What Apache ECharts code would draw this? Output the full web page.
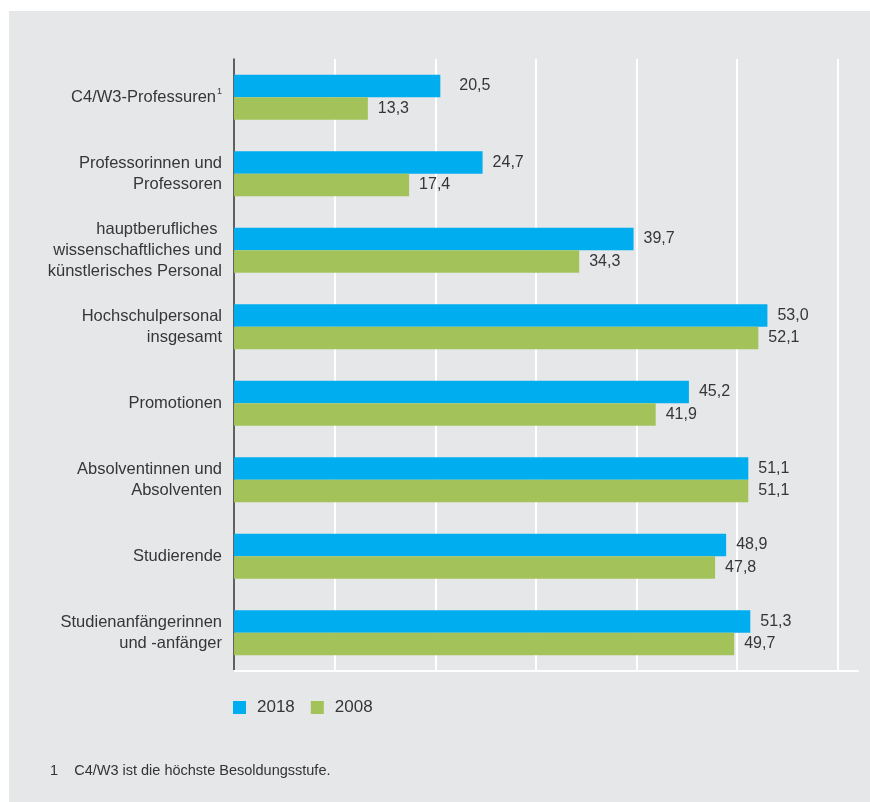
<!DOCTYPE html>
<html>
<head>
<meta charset="utf-8">
<script src="https://cdn.jsdelivr.net/npm/echarts@6/dist/echarts.min.js"></script>
<style>
html,body{margin:0;padding:0;background:#fff;}
#chart{width:870px;height:802px;}
</style>
</head>
<body>
<div id="chart"></div>
<script>
const categories = [
  'C4/W3-Professuren¹',
  'Professorinnen und\nProfessoren',
  'hauptberufliches \nwissenschaftliches und\nkünstlerisches Personal',
  'Hochschulpersonal\ninsgesamt',
  'Promotionen',
  'Absolventinnen und\nAbsolventen',
  'Studierende',
  'Studienanfängerinnen\nund -anfänger'
];
const values2018 = [20.5, 24.7, 39.7, 53.0, 45.2, 51.1, 48.9, 51.3];
const values2008 = [13.3, 17.4, 34.3, 52.1, 41.9, 51.1, 47.8, 49.7];
const seriesNames = ['2018', '2008'];
const footnote = '1    C4/W3 ist die höchste Besoldungsstufe.';

const FONT = '"Liberation Sans", Arial, Helvetica, sans-serif';
const fmt = v => v.toFixed(1).replace('.', ',');

const chart = echarts.init(document.getElementById('chart'), null, {renderer: 'canvas'});
const labelStyle = {
  show: true, position: 'right', distance: 10,
  color: '#363636', fontSize: 16, fontFamily: FONT,
  formatter: p => fmt(p.value)
};
const catLabelStyle = {color: '#363636', fontSize: 16.5, lineHeight: 21, fontFamily: FONT};
chart.setOption({
  backgroundColor: '#ffffff',
  animation: false,
  graphic: [
    {type: 'rect', left: 9, top: 11, z: -10, shape: {width: 861, height: 791}, style: {fill: '#e6e7e9'}},
    {type: 'text', left: 50, top: 763, style: {text: footnote, fill: '#333', font: '14.5px ' + FONT}}
  ],
  grid: {left: 234, top: 59, right: 12, bottom: 131, containLabel: false},
  legend: {
    left: 233, top: 699, itemWidth: 13, itemHeight: 13, itemGap: 16, padding: 0,
    icon: 'rect',
    data: seriesNames,
    textStyle: {fontSize: 17, color: '#363636', fontFamily: FONT, padding: [0, 0, 0, 6]}
  },
  xAxis: {
    type: 'value', min: 0, max: 62, interval: 10,
    axisLabel: {show: false}, axisTick: {show: false},
    axisLine: {show: true, lineStyle: {color: '#ffffff', width: 2}},
    splitLine: {show: true, showMinLine: false, showMaxLine: false, lineStyle: {color: '#ffffff', width: 2}}
  },
  yAxis: {
    type: 'category', data: categories, inverse: true,
    axisTick: {show: false},
    axisLine: {show: true, lineStyle: {color: '#333', width: 1.5}},
    axisLabel: Object.assign({
      margin: 12, align: 'right',
      formatter: v => v.indexOf('¹') >= 0 ? '{m|' + v.replace('¹', '') + '}{s|1}' : v,
      rich: {
        m: Object.assign({}, catLabelStyle),
        s: {color: '#363636', fontSize: 9, fontFamily: FONT, verticalAlign: 'top', padding: [0, 0, 8, 1]}
      }
    }, catLabelStyle)
  },
  series: [
    {
      name: seriesNames[0], type: 'bar', barGap: '0%', barCategoryGap: '41%',
      itemStyle: {color: '#00aeef'},
      label: labelStyle,
      data: values2018.map((v, i) => i === 0 ? {value: v, label: {distance: 19}} : v)
    },
    {
      name: seriesNames[1], type: 'bar', barGap: '0%', barCategoryGap: '41%',
      itemStyle: {color: '#a3c35a'},
      label: labelStyle,
      data: values2008
    }
  ]
});
</script>
</body>
</html>
